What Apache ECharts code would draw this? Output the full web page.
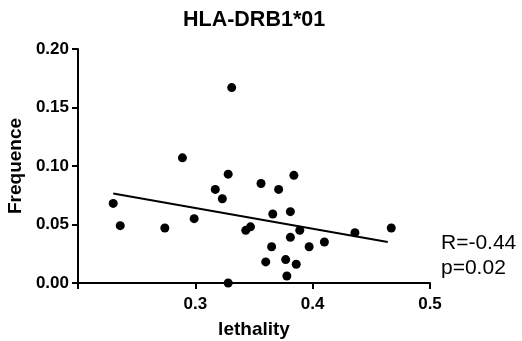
<!DOCTYPE html>
<html>
<head>
<meta charset="utf-8">
<script src="https://cdn.jsdelivr.net/npm/echarts@6/dist/echarts.min.js"></script>
<style>
  html, body { margin: 0; padding: 0; background: #fff; }
  #chart { width: 522px; height: 341px; }
</style>
</head>
<body>
<div id="chart"></div>
<script>
const lethality = [
  0.230, 0.236, 0.274, 0.289, 0.299, 0.317, 0.323, 0.328, 0.331, 0.328,
  0.343, 0.347, 0.356, 0.360, 0.365, 0.366, 0.371, 0.377, 0.378, 0.381,
  0.381, 0.384, 0.386, 0.389, 0.397, 0.410, 0.436, 0.467
]
const frequence = [
  0.068, 0.049, 0.047, 0.107, 0.055, 0.080, 0.072, 0.093, 0.167, 0.000,
  0.045, 0.048, 0.085, 0.018, 0.031, 0.059, 0.080, 0.020, 0.006, 0.061,
  0.039, 0.092, 0.016, 0.045, 0.031, 0.035, 0.043, 0.047
]
const fitX = [0.230, 0.464]
const fitY = [0.0765, 0.0350]
const statLines = ['R=-0.44', 'p=0.02']

const font = 'Liberation Sans, Arial, sans-serif'
const chart = echarts.init(document.getElementById('chart'))

chart.setOption({
  animation: false,
  title: {
    text: 'HLA-DRB1*01',
    left: 183,
    top: 9,
    padding: 0,
    textStyle: { fontFamily: font, fontSize: 21.5, fontWeight: 'bold', color: '#000' },
  },
  grid: { left: 78, right: 92, top: 49, bottom: 58, outerBoundsMode: 'none' },
  xAxis: {
    type: 'value',
    min: 0.2,
    max: 0.5,
    interval: 0.1,
    name: 'lethality',
    nameLocation: 'middle',
    nameGap: 37,
    nameTextStyle: { fontFamily: font, fontSize: 19, fontWeight: 'bold', color: '#000' },
    axisLine: { show: true, lineStyle: { color: '#000', width: 2 } },
    axisTick: { show: true, length: 6, lineStyle: { color: '#000', width: 2 } },
    axisLabel: {
      margin: 13,
      fontFamily: font, fontSize: 17, fontWeight: 'bold', color: '#000',
      formatter: v => (Math.abs(v - 0.2) < 1e-9 ? '' : v.toFixed(1)),
    },
    splitLine: { show: false },
  },
  yAxis: {
    type: 'value',
    min: 0,
    max: 0.2,
    interval: 0.05,
    name: 'Frequence',
    nameLocation: 'middle',
    nameGap: 48,
    nameTextStyle: { fontFamily: font, fontSize: 19, fontWeight: 'bold', color: '#000' },
    axisLine: { show: true, lineStyle: { color: '#000', width: 2 } },
    axisTick: { show: true, length: 6, lineStyle: { color: '#000', width: 2 } },
    axisLabel: {
      margin: 9,
      fontFamily: font, fontSize: 17, fontWeight: 'bold', color: '#000',
      formatter: v => v.toFixed(2),
    },
    splitLine: { show: false },
  },
  graphic: [
    {
      type: 'text',
      left: 441,
      top: 231,
      style: {
        text: statLines.join('\n'),
        fontFamily: font,
        fontSize: 21,
        lineHeight: 25,
        fill: '#000',
      },
    },
  ],
  series: [
    {
      type: 'line',
      data: fitX.map((x, i) => [x, fitY[i]]),
      symbol: 'none',
      lineStyle: { color: '#000', width: 2 },
      z: 2,
    },
    {
      type: 'scatter',
      data: lethality.map((x, i) => [x, frequence[i]]),
      symbol: 'circle',
      symbolSize: 9,
      itemStyle: { color: '#000', opacity: 1 },
      clip: false,
      z: 3,
    },
  ],
})
</script>
</body>
</html>
